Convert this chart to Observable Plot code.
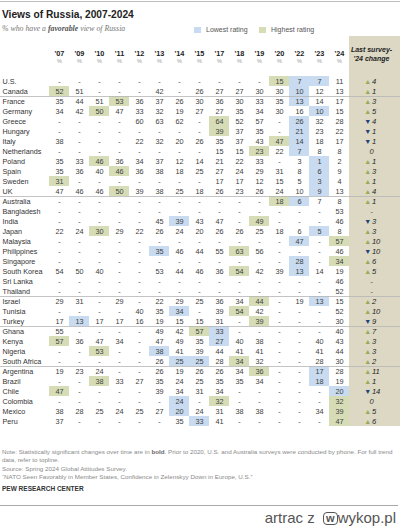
<!DOCTYPE html>
<html><head><meta charset="utf-8">
<script src="https://cdn.jsdelivr.net/npm/d3@7"></script>
<script src="https://cdn.jsdelivr.net/npm/@observablehq/plot@0.6"></script>
<style>
body{margin:0;width:400px;height:527px;position:relative;background:#fff;font-family:"Liberation Sans",Arial,sans-serif;overflow:hidden}
.abs{position:absolute;white-space:nowrap;line-height:1}
.sw{display:inline-block;width:7px;height:6px;vertical-align:middle;margin-right:5px}
.foot{font-size:6.25px;color:#8a8a8a;left:2px}
</style></head><body>
<div class="abs" style="left:0;top:1px;width:400px;border-top:1px solid #bdbdbd"></div>
<div class="abs" style="left:2px;top:9.5px;font-size:10.2px;font-weight:bold;color:#222">Views of Russia, 2007-2024</div>
<div class="abs" style="left:2px;top:25px;font-size:7.8px;font-style:italic;color:#777;font-family:'Liberation Serif',Georgia,serif">% who have a <b style="color:#555">favorable</b> view of Russia</div>
<div class="abs" style="left:194px;top:25.5px;font-size:7px;color:#555"><span class="sw" style="background:#c8dbf0"></span>Lowest rating</div>
<div class="abs" style="left:259px;top:25.5px;font-size:7px;color:#555"><span class="sw" style="background:#d6ddb6"></span>Highest rating</div>
<div class="abs" id="chart" style="left:0;top:36px"></div>
<div class="abs foot" style="top:448.7px">Note: Statistically significant changes over time are in <b style="color:#666">bold</b>. Prior to 2020, U.S. and Australia surveys were conducted by phone. For full trend</div>
<div class="abs foot" style="top:457.2px">data, refer to topline.</div>
<div class="abs foot" style="top:465.7px">Source: Spring 2024 Global Attitudes Survey.</div>
<div class="abs foot" style="top:474.2px">“NATO Seen Favorably in Member States, Confidence in Zelenskyy Down in Europe, U.S.”</div>
<div class="abs" style="left:2px;top:485.5px;font-size:6.5px;font-weight:bold;color:#333">PEW RESEARCH CENTER</div>
<div class="abs" style="left:0;top:505px;width:398px;border-top:1px solid #aaa"></div>
<div class="abs" style="right:4px;top:510px;font-size:15px;color:#555">artrac z&nbsp;&nbsp;<span style="display:inline-block;border:1.5px solid #555;border-radius:4px;font-size:11px;line-height:11px;padding:0 2px;font-weight:bold;vertical-align:1px">w</span>wykop.pl</div>
<script>
const years = ["'07","'09","'10","'11","'12","'13","'14","'15","'17","'18","'19","'20","'22","'23","'24"];
const countries = ["U.S.","Canada","France","Germany","Greece","Hungary","Italy","Netherlands","Poland","Spain","Sweden","UK",
  "Australia","Bangladesh","India","Japan","Malaysia","Philippines","Singapore","South Korea","Sri Lanka","Thailand",
  "Israel","Tunisia","Turkey","Ghana","Kenya","Nigeria","South Africa",
  "Argentina","Brazil","Chile","Colombia","Mexico","Peru"];
const _ = null;
const values = [
  [_,_,_,_,_,_,_,_,_,_,_,15,7,7,11],
  [52,51,_,_,_,42,_,26,27,27,30,30,10,12,13],
  [35,44,51,53,36,37,26,30,36,30,33,35,13,14,17],
  [34,42,50,47,33,32,19,27,27,35,34,30,16,10,15],
  [_,_,_,_,60,63,62,_,64,52,57,_,26,32,28],
  [_,_,_,_,_,_,_,_,39,37,35,_,21,23,22],
  [38,_,_,_,22,32,20,26,35,37,43,47,14,18,17],
  [_,_,_,_,_,_,_,_,15,15,23,22,7,8,8],
  [35,33,46,36,34,37,12,14,21,22,33,_,3,1,2],
  [35,36,40,46,36,38,18,25,27,24,29,31,8,6,9],
  [31,_,_,_,_,_,_,_,17,17,12,15,5,3,4],
  [47,46,46,50,39,38,25,18,26,23,26,24,10,9,13],
  [_,_,_,_,_,_,_,_,_,_,_,18,6,7,8],
  [_,_,_,_,_,_,_,_,_,_,_,_,_,_,53],
  [_,_,_,_,_,45,39,43,47,_,49,_,_,_,46],
  [22,24,30,29,22,26,24,20,26,26,25,18,6,5,8],
  [_,_,_,_,_,_,_,_,_,_,_,_,47,_,57],
  [_,_,_,_,_,35,46,44,55,63,56,_,_,_,46],
  [_,_,_,_,_,_,_,_,_,_,_,_,28,_,34],
  [54,50,40,_,_,53,44,46,36,54,42,39,13,14,19],
  [_,_,_,_,_,_,_,_,_,_,_,_,_,_,46],
  [_,_,_,_,_,_,_,_,_,_,_,_,_,_,52],
  [29,31,_,29,_,22,29,25,36,34,44,_,19,13,15],
  [_,_,_,_,40,35,34,_,39,54,42,_,_,_,52],
  [17,13,17,17,16,19,15,15,31,_,39,_,_,_,30],
  [55,_,_,_,_,49,42,57,33,_,_,_,_,_,40],
  [57,36,47,34,_,47,49,35,27,40,38,_,_,40,43],
  [_,_,53,_,_,38,41,39,44,41,41,_,_,41,44],
  [_,_,_,_,_,26,25,25,28,34,32,_,_,28,30],
  [19,23,24,_,_,26,19,26,26,34,36,_,_,17,28],
  [_,_,38,33,27,35,24,25,35,35,34,_,_,18,19],
  [47,_,_,_,_,39,34,31,34,_,_,_,_,_,20],
  [_,_,_,_,_,_,24,_,32,_,_,_,_,_,32],
  [38,28,25,24,25,27,20,24,31,38,38,_,_,34,39],
  [37,_,_,_,_,_,35,33,41,_,_,_,_,_,47]
];
const changes = [4,1,3,5,-4,-1,-1,0,1,3,1,4, 1,_,-3,3,10,-10,6,5,_,_, 2,10,-9, 7,3,3,2, 11,1,-14,0,5,6];
const significant = ["U.S.","Germany","UK","Japan","Malaysia","Philippines","Singapore","South Korea","Tunisia","Turkey","Ghana","Argentina","Chile"];
const lowest = [["U.S.","'22"],["U.S.","'23"],["Canada","'22"],["France","'22"],["Germany","'23"],["Greece","'22"],["Hungary","'22"],
  ["Italy","'22"],["Netherlands","'22"],["Poland","'23"],["Spain","'23"],["Sweden","'23"],["UK","'23"],["Australia","'22"],
  ["India","'14"],["Japan","'23"],["Malaysia","'22"],["Philippines","'13"],["Singapore","'22"],["South Korea","'22"],
  ["Israel","'23"],["Tunisia","'14"],["Turkey","'09"],["Ghana","'17"],["Kenya","'17"],["Nigeria","'13"],
  ["South Africa","'14"],["South Africa","'15"],["Argentina","'23"],["Brazil","'23"],["Chile","'24"],["Colombia","'14"],
  ["Mexico","'14"],["Peru","'15"]];
const highest = [["U.S.","'20"],["Canada","'07"],["France","'11"],["Germany","'10"],["Greece","'17"],["Hungary","'17"],["Italy","'20"],
  ["Netherlands","'19"],["Poland","'10"],["Spain","'11"],["Sweden","'07"],["UK","'11"],["Australia","'20"],["India","'19"],
  ["Japan","'10"],["Malaysia","'24"],["Philippines","'18"],["Singapore","'24"],["South Korea","'18"],["Israel","'19"],
  ["Tunisia","'18"],["Turkey","'19"],["Ghana","'15"],["Kenya","'07"],["Nigeria","'10"],["South Africa","'18"],
  ["Argentina","'19"],["Brazil","'10"],["Chile","'07"],["Colombia","'17"],["Colombia","'24"],["Mexico","'24"],["Peru","'24"]];
const groupStarts = ["France","Australia","Israel","Ghana","Argentina"];
const changeLabel = "chg";

const cells = countries.flatMap((c, i) => years.map((y, j) => ({country: c, year: y, value: values[i][j]})));
const changeRows = countries.map((c, i) => ({country: c, change: changes[i], bold: significant.includes(c)}));

function tanColumn(index, scales, values, dims) {
  const g = d3.create("svg:g");
  const x0 = scales.x(changeLabel);
  const yEnd = scales.y(countries[countries.length - 1]) + scales.y.bandwidth();
  g.append("rect").attr("x", x0).attr("y", 0).attr("width", dims.width - x0).attr("height", yEnd).attr("fill", "#dcd8c4");
  return g.node();
}
function separators(index, scales, values, dims) {
  const g = d3.create("svg:g");
  for (const c of groupStarts) {
    const y = Math.round(scales.y(c)) + 0.5;
    g.append("line").attr("x1", 0).attr("x2", dims.width).attr("y1", y).attr("y2", y)
      .attr("stroke", "#b5b5b5").attr("stroke-width", 0.8);
  }
  return g.node();
}

const nonZero = changeRows.filter(d => d.change != null && d.change !== 0);
const flat = changeRows.filter(d => d.change == null || d.change === 0);

const chart = Plot.plot({
  width: 400, height: 404,
  marginTop: 26.3, marginBottom: 0, marginLeft: 42.3, marginRight: 24.9,
  x: {type: "band", domain: [...years, changeLabel], padding: 0, axis: null},
  y: {type: "band", domain: countries, padding: 0, axis: null},
  style: {fontFamily: "'Liberation Sans', Arial, sans-serif", fontSize: "7.3px", background: "transparent"},
  marks: [
    tanColumn,
    Plot.cell(lowest, {x: d => d[1], y: d => d[0], fill: "#c8dbf0"}),
    Plot.cell(highest, {x: d => d[1], y: d => d[0], fill: "#d6ddb6"}),
    separators,
    Plot.text(cells, {x: "year", y: "country", text: d => d.value == null ? "-" : String(d.value), fill: "#3d3d3d", fontSize: 7.3}),
    Plot.text(countries, {y: d => d, frameAnchor: "left", textAnchor: "start", dx: -40.3, fill: "#333", fontSize: 7.2}),
    Plot.text(years, {x: d => d, frameAnchor: "top", dy: -12.3, fontWeight: "bold", fill: "#222", fontSize: 7.3}),
    Plot.text(years, {x: d => d, frameAnchor: "top", dy: -3.8, text: () => "%", fill: "#999", fontSize: 5.5}),
    Plot.text(["Last survey-\n'24 change"], {x: () => changeLabel, frameAnchor: "top", dy: -16.9, dx: 12, fontWeight: "bold", fontStyle: "italic", fill: "#222", fontSize: 7, lineHeight: 1.24}),
    Plot.text(nonZero, {x: () => changeLabel, y: "country", text: d => d.change > 0 ? "▲" : "▼",
      fill: d => d.change > 0 ? "#9aab58" : "#1f4379", textAnchor: "end", dx: 11.8, fontSize: 7}),
    Plot.text(nonZero, {x: () => changeLabel, y: "country", text: d => String(Math.abs(d.change)),
      textAnchor: "start", dx: 12.4, fill: "#1e1e1e", fontStyle: "italic", fontWeight: d => d.bold ? "bold" : "normal", fontSize: 7.6}),
    Plot.text(flat, {x: () => changeLabel, y: "country", text: d => d.change == null ? "-" : "0",
      dx: 12, fill: "#333", fontStyle: "italic", fontSize: 7.6})
  ]
});
document.getElementById("chart").appendChild(chart);
</script>
</body></html>
